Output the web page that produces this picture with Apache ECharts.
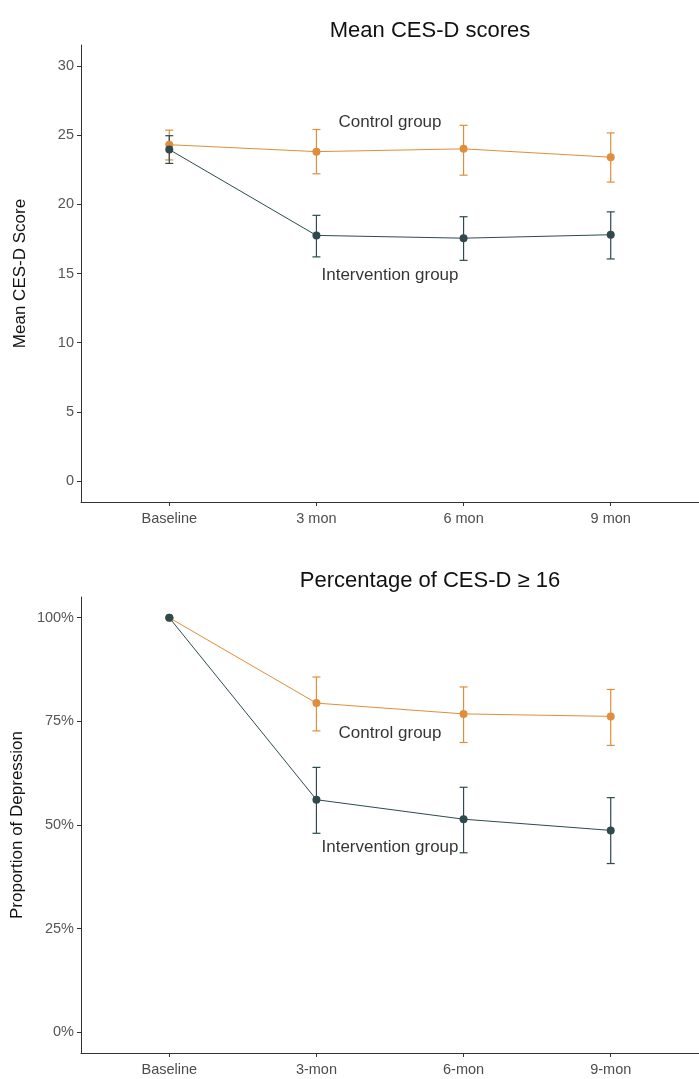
<!DOCTYPE html>
<html>
<head>
<meta charset="utf-8">
<script src="https://cdn.jsdelivr.net/npm/echarts@6/dist/echarts.min.js"></script>
<style>
  html, body { margin: 0; padding: 0; background: #ffffff; }
  #chart { width: 699px; height: 1079px; }
</style>
</head>
<body>
<div id="chart"></div>
<script>
// ---- Data ----
const topCategories = ['Baseline', '3 mon', '6 mon', '9 mon'];
const bottomCategories = ['Baseline', '3-mon', '6-mon', '9-mon'];

// Mean CES-D scores
const cesdControlMean = [24.3, 23.8, 24.0, 23.4];
const cesdControlLow  = [23.2, 22.2, 22.1, 21.6];
const cesdControlHigh = [25.35, 25.4, 25.7, 25.15];
const cesdInterventionMean = [23.95, 17.75, 17.55, 17.8];
const cesdInterventionLow  = [22.95, 16.2, 15.95, 16.05];
const cesdInterventionHigh = [24.95, 19.2, 19.1, 19.45];
const cesdTicks = [0, 5, 10, 15, 20, 25, 30];

// Percentage of CES-D >= 16
const pctControlMean = [100, 79.4, 76.8, 76.2];
const pctControlLow  = [100, 72.7, 69.9, 69.2];
const pctControlHigh = [100, 85.7, 83.3, 82.7];
const pctInterventionMean = [100, 56.1, 51.4, 48.7];
const pctInterventionLow  = [100, 48.0, 43.3, 40.7];
const pctInterventionHigh = [100, 63.9, 59.1, 56.6];
const pctTicks = [0, 25, 50, 75, 100];

// Annotation labels (x index, y value, text)
const cesdAnnotations = [[1.5, 25.9, 'Control group'], [1.5, 14.85, 'Intervention group']];
const pctAnnotations = [[1.5, 72.1, 'Control group'], [1.5, 44.5, 'Intervention group']];

// ---- Styles ----
const ORANGE = '#E08D3C';
const DARK = '#2F4A4F';
const FONT = 'Liberation Sans';
const xTickValues = [0, 1, 2, 3];

function zipPts(means) { return means.map((v, i) => [i, v]); }
function zipErr(lo, hi) { return lo.map((v, i) => [i, v, hi[i]]); }

function errorSeries(idx, lo, hi, color) {
  return {
    type: 'custom', xAxisIndex: idx, yAxisIndex: idx, z: 2,
    silent: true,
    data: zipErr(lo, hi),
    renderItem: function (params, api) {
      const x = api.value(0);
      const pLo = api.coord([x, api.value(1)]);
      const pHi = api.coord([x, api.value(2)]);
      const w = 4;
      const style = { stroke: color, lineWidth: 1.2, fill: null };
      return {
        type: 'group',
        children: [
          { type: 'line', shape: { x1: pLo[0], y1: pLo[1], x2: pHi[0], y2: pHi[1] }, style: style },
          { type: 'line', shape: { x1: pLo[0] - w, y1: pLo[1], x2: pLo[0] + w, y2: pLo[1] }, style: style },
          { type: 'line', shape: { x1: pHi[0] - w, y1: pHi[1], x2: pHi[0] + w, y2: pHi[1] }, style: style }
        ]
      };
    }
  };
}

function lineSeries(idx, means, color, z) {
  return {
    type: 'line', xAxisIndex: idx, yAxisIndex: idx, z: z,
    data: zipPts(means),
    symbol: 'circle', symbolSize: 8,
    itemStyle: { color: color },
    lineStyle: { color: color, width: 1 },
    silent: true
  };
}

function annotationSeries(idx, ann) {
  return {
    type: 'scatter', xAxisIndex: idx, yAxisIndex: idx, z: 10,
    symbolSize: 1, itemStyle: { color: 'rgba(0,0,0,0)' }, silent: true,
    data: ann.map(a => ({ value: [a[0], a[1]], name: a[2] })),
    label: {
      show: true, position: 'inside', formatter: '{b}',
      color: '#000', fontSize: 17, fontFamily: FONT,
      textBorderWidth: 0
    }
  };
}

function xAxis(idx, cats) {
  return {
    type: 'value', gridIndex: idx, min: -0.6, max: 3.6,
    axisLine: { show: true, onZero: false, lineStyle: { color: '#333', width: 1 } },
    axisTick: { show: true, customValues: xTickValues, length: 4, lineStyle: { color: '#333' } },
    axisLabel: {
      customValues: xTickValues, color: '#4D4D4D', fontSize: 14.5, fontFamily: FONT, margin: 9,
      formatter: v => cats[Math.round(v)]
    },
    splitLine: { show: false }
  };
}

function yAxis(idx, min, max, ticks, name, fmt) {
  return {
    type: 'value', gridIndex: idx, min: min, max: max,
    name: name, nameLocation: 'middle', nameGap: 52, nameRotate: 90,
    nameTextStyle: { color: '#111', fontSize: 17, fontFamily: FONT },
    axisLine: { show: true, onZero: false, lineStyle: { color: '#333', width: 1 } },
    axisTick: { show: true, customValues: ticks, length: 4, lineStyle: { color: '#333' } },
    axisLabel: {
      customValues: ticks, color: '#555', fontSize: 14.5, fontFamily: FONT, margin: 7,
      formatter: fmt
    },
    splitLine: { show: false }
  };
}

const chart = echarts.init(document.getElementById('chart'), null, { renderer: 'canvas' });
chart.setOption({
  animation: false,
  backgroundColor: '#ffffff',
  title: [
    { text: 'Mean CES-D scores', left: 425, top: 15, textAlign: 'center',
      textStyle: { fontSize: 22, fontWeight: 'normal', color: '#111', fontFamily: FONT } },
    { text: 'Percentage of CES-D \u2265 16', left: 425, top: 565, textAlign: 'center',
      textStyle: { fontSize: 22, fontWeight: 'normal', color: '#111', fontFamily: FONT } }
  ],
  grid: [
    { left: 81, top: 45, width: 632, height: 457 },
    { left: 81, top: 597, width: 632, height: 456 }
  ],
  xAxis: [xAxis(0, topCategories), xAxis(1, bottomCategories)],
  yAxis: [
    yAxis(0, -1.5, 31.5, cesdTicks, 'Mean CES-D Score', v => String(v)),
    yAxis(1, -5, 105, pctTicks, 'Proportion of Depression', v => v + '%')
  ],
  series: [
    errorSeries(0, cesdControlLow, cesdControlHigh, ORANGE),
    errorSeries(0, cesdInterventionLow, cesdInterventionHigh, DARK),
    lineSeries(0, cesdControlMean, ORANGE, 3),
    lineSeries(0, cesdInterventionMean, DARK, 4),
    annotationSeries(0, cesdAnnotations),
    errorSeries(1, pctControlLow, pctControlHigh, ORANGE),
    errorSeries(1, pctInterventionLow, pctInterventionHigh, DARK),
    lineSeries(1, pctControlMean, ORANGE, 3),
    lineSeries(1, pctInterventionMean, DARK, 4),
    annotationSeries(1, pctAnnotations)
  ]
});
</script>
</body>
</html>
